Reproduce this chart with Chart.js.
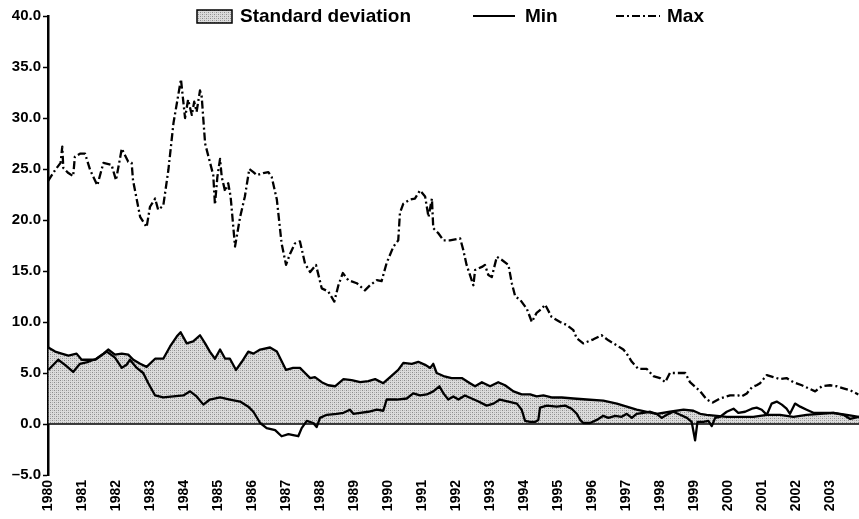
<!DOCTYPE html>
<html>
<head>
<meta charset="utf-8">
<script src="https://cdn.jsdelivr.net/npm/chart.js@4.4.1/dist/chart.umd.min.js"></script>
<style>
  html, body { margin: 0; padding: 0; background: #fff; }
  #wrap { width: 859px; height: 519px; }
</style>
</head>
<body>
<div id="wrap"><canvas id="chart"></canvas></div>
<script>
// year ticks on the x axis
var yearTicks = [1980, 1981, 1982, 1983, 1984, 1985, 1986, 1987, 1988, 1989, 1990, 1991,
                 1992, 1993, 1994, 1995, 1996, 1997, 1998, 1999, 2000, 2001, 2002, 2003];

// standard deviation (shaded)
var sdYears = [1980.01, 1980.21, 1980.40, 1980.60, 1980.84, 1980.99, 1981.38, 1981.63, 1981.77, 1981.97,
               1982.17, 1982.36, 1982.51, 1982.71, 1982.90, 1983.15, 1983.39, 1983.59, 1983.79, 1983.90,
               1984.08, 1984.27, 1984.47, 1984.62, 1984.76, 1984.91, 1985.06, 1985.21, 1985.35, 1985.53,
               1985.70, 1985.89, 1986.04, 1986.24, 1986.53, 1986.73, 1987.00, 1987.21, 1987.41, 1987.56,
               1987.71, 1987.85, 1988.05, 1988.24, 1988.44, 1988.69, 1988.93, 1989.18, 1989.42, 1989.62,
               1989.86, 1990.06, 1990.30, 1990.45, 1990.70, 1990.89, 1991.09, 1991.24, 1991.33, 1991.43,
               1991.63, 1991.87, 1992.17, 1992.41, 1992.56, 1992.76, 1993.00, 1993.24, 1993.44, 1993.69,
               1993.93, 1994.18, 1994.37, 1994.57, 1994.81, 1995.11, 1995.45, 1995.84, 1996.33, 1996.73,
               1997.02, 1997.31, 1997.61, 1997.90, 1998.29, 1998.69, 1998.98, 1999.18, 1999.37, 1999.67,
               1999.96, 2000.35, 2000.74, 2001.14, 2001.53, 2001.92, 2002.31, 2002.71, 2003.10, 2003.49,
               2003.85];
var sdValues = [7.5, 7.1, 6.9, 6.7, 6.9, 6.3, 6.3, 6.9, 7.3, 6.8,
                6.9, 6.8, 6.3, 5.9, 5.6, 6.4, 6.4, 7.6, 8.6, 9.0,
                7.9, 8.1, 8.7, 7.9, 7.1, 6.4, 7.3, 6.4, 6.4, 5.3,
                6.1, 7.1, 6.9, 7.3, 7.5, 7.1, 5.3, 5.5, 5.5, 5.0,
                4.5, 4.6, 4.1, 3.8, 3.7, 4.4, 4.3, 4.1, 4.2, 4.4,
                4.0, 4.6, 5.3, 6.0, 5.9, 6.1, 5.8, 5.5, 5.9, 5.0,
                4.7, 4.5, 4.5, 4.0, 3.7, 4.1, 3.7, 4.1, 3.8, 3.2,
                2.9, 2.9, 2.7, 2.8, 2.6, 2.6, 2.5, 2.4, 2.3, 2.0,
                1.7, 1.4, 1.2, 1.0, 1.2, 1.4, 1.3, 1.0, 0.9, 0.8,
                0.7, 0.7, 0.7, 0.9, 0.9, 0.7, 0.9, 1.0, 1.1, 0.9,
                0.7];

// minimum
var minYears = [1980.01, 1980.30, 1980.50, 1980.74, 1980.94, 1981.19, 1981.43, 1981.73, 1981.97, 1982.17,
                1982.31, 1982.41, 1982.61, 1982.80, 1982.95, 1983.15, 1983.39, 1983.69, 1983.98, 1984.18,
                1984.37, 1984.57, 1984.76, 1985.06, 1985.35, 1985.65, 1985.89, 1986.04, 1986.24, 1986.43,
                1986.68, 1986.87, 1987.07, 1987.21, 1987.36, 1987.46, 1987.61, 1987.80, 1987.90, 1988.00,
                1988.20, 1988.49, 1988.69, 1988.88, 1988.98, 1989.18, 1989.42, 1989.67, 1989.86, 1989.96,
                1990.26, 1990.55, 1990.74, 1990.94, 1991.14, 1991.33, 1991.51, 1991.63, 1991.77, 1991.92,
                1992.07, 1992.26, 1992.46, 1992.66, 1992.90, 1993.10, 1993.29, 1993.54, 1993.79, 1993.93,
                1994.03, 1994.18, 1994.32, 1994.42, 1994.47, 1994.67, 1994.96, 1995.21, 1995.40, 1995.55,
                1995.65, 1995.74, 1995.94, 1996.14, 1996.33, 1996.48, 1996.68, 1996.87, 1997.02, 1997.17,
                1997.31, 1997.51, 1997.71, 1997.90, 1998.05, 1998.20, 1998.39, 1998.59, 1998.79, 1998.93,
                1999.03, 1999.10, 1999.27, 1999.42, 1999.52, 1999.62, 1999.76, 1999.96, 2000.16, 2000.30,
                2000.50, 2000.70, 2000.84, 2000.99, 2001.14, 2001.28, 2001.43, 2001.58, 2001.72, 2001.82,
                2001.97, 2002.12, 2002.31, 2002.51, 2002.80, 2003.10, 2003.39, 2003.59, 2003.85];
var minValues = [5.3, 6.3, 5.8, 5.1, 5.9, 6.1, 6.4, 7.1, 6.5, 5.5,
                 5.8, 6.3, 5.5, 5.0, 4.0, 2.8, 2.6, 2.7, 2.8, 3.2,
                 2.7, 1.9, 2.4, 2.6, 2.4, 2.2, 1.7, 1.2, 0.1, -0.4,
                 -0.6, -1.2, -1.0, -1.1, -1.2, -0.4, 0.3, 0.1, -0.3, 0.6,
                 0.9, 1.0, 1.1, 1.4, 1.0, 1.1, 1.2, 1.4, 1.3, 2.4,
                 2.4, 2.5, 3.0, 2.8, 2.9, 3.2, 3.7, 3.0, 2.4, 2.7,
                 2.4, 2.8, 2.5, 2.2, 1.8, 2.0, 2.4, 2.2, 2.0, 1.4,
                 0.3, 0.2, 0.2, 0.4, 1.6, 1.8, 1.7, 1.8, 1.5, 1.0,
                 0.4, 0.1, 0.1, 0.4, 0.8, 0.6, 0.8, 0.7, 1.0, 0.6,
                 1.0, 1.1, 1.2, 1.0, 0.6, 0.9, 1.2, 0.9, 0.6, 0.2,
                 -1.6, 0.2, 0.2, 0.3, -0.2, 0.6, 0.7, 1.2, 1.5, 1.1,
                 1.2, 1.5, 1.6, 1.4, 0.9, 2.0, 2.2, 1.9, 1.5, 1.0,
                 2.0, 1.7, 1.4, 1.1, 1.1, 1.1, 0.9, 0.5, 0.7];

// maximum
var maxYears = [1980.00, 1980.21, 1980.37, 1980.42, 1980.45, 1980.60, 1980.74, 1980.79, 1980.94, 1981.09,
                1981.24, 1981.45, 1981.63, 1981.87, 1982.00, 1982.17, 1982.36, 1982.46, 1982.50, 1982.71,
                1982.90, 1983.00, 1983.15, 1983.24, 1983.39, 1983.54, 1983.69, 1983.91, 1984.03, 1984.12,
                1984.23, 1984.30, 1984.37, 1984.47, 1984.52, 1984.62, 1984.86, 1984.91, 1984.98, 1985.06,
                1985.11, 1985.21, 1985.30, 1985.37, 1985.50, 1985.65, 1985.79, 1985.92, 1986.04, 1986.14,
                1986.33, 1986.48, 1986.58, 1986.73, 1986.87, 1987.00, 1987.12, 1987.26, 1987.41, 1987.56,
                1987.71, 1987.88, 1988.05, 1988.24, 1988.42, 1988.54, 1988.67, 1988.83, 1989.08, 1989.32,
                1989.47, 1989.67, 1989.81, 1989.96, 1990.16, 1990.30, 1990.35, 1990.45, 1990.65, 1990.79,
                1990.94, 1991.09, 1991.19, 1991.29, 1991.33, 1991.48, 1991.63, 1991.82, 1992.12, 1992.21,
                1992.31, 1992.51, 1992.56, 1992.76, 1992.85, 1992.95, 1993.05, 1993.20, 1993.34, 1993.54,
                1993.64, 1993.74, 1993.88, 1994.08, 1994.23, 1994.37, 1994.52, 1994.62, 1994.81, 1995.06,
                1995.26, 1995.45, 1995.55, 1995.74, 1996.04, 1996.28, 1996.48, 1996.73, 1996.92, 1997.02,
                1997.17, 1997.36, 1997.61, 1997.80, 1998.00, 1998.15, 1998.29, 1998.54, 1998.74, 1998.88,
                1999.18, 1999.37, 1999.55, 1999.76, 2000.06, 2000.30, 2000.40, 2000.55, 2000.70, 2000.84,
                2000.94, 2001.14, 2001.33, 2001.53, 2001.72, 2001.92, 2002.17, 2002.36, 2002.56, 2002.76,
                2003.00, 2003.20, 2003.39, 2003.59, 2003.83];
var maxValues = [23.8, 24.9, 25.6, 27.2, 25.1, 24.6, 24.3, 26.2, 26.5, 26.5,
                 24.9, 23.4, 25.6, 25.4, 23.9, 27.0, 25.7, 25.6, 23.9, 20.3,
                 19.3, 21.3, 22.1, 21.0, 21.4, 24.9, 29.5, 33.8, 30.0, 31.8,
                 30.3, 31.6, 30.6, 32.7, 32.1, 27.5, 24.4, 21.5, 24.2, 26.0,
                 24.2, 22.8, 23.6, 22.3, 17.4, 20.3, 22.3, 25.0, 24.7, 24.4,
                 24.6, 24.7, 24.2, 22.0, 17.7, 15.6, 16.7, 17.7, 17.9, 15.7,
                 14.9, 15.6, 13.3, 13.0, 12.0, 13.6, 14.8, 14.1, 13.8, 13.1,
                 13.6, 14.1, 14.0, 15.8, 17.4, 18.0, 20.7, 21.6, 22.0, 22.1,
                 22.9, 22.3, 20.3, 22.1, 19.2, 18.7, 18.0, 18.0, 18.2, 17.1,
                 15.6, 13.6, 15.1, 15.4, 15.6, 14.6, 14.4, 16.4, 16.1, 15.6,
                 13.8, 12.5, 12.2, 11.3, 10.0, 10.9, 11.3, 11.7, 10.5, 10.0,
                 9.7, 9.2, 8.4, 7.9, 8.3, 8.7, 8.2, 7.7, 7.3, 6.9,
                 6.1, 5.4, 5.4, 4.7, 4.5, 4.1, 5.0, 5.0, 5.0, 4.1,
                 3.2, 2.4, 2.1, 2.5, 2.8, 2.8, 2.7, 3.0, 3.6, 3.8,
                 4.0, 4.8, 4.6, 4.4, 4.5, 4.1, 3.8, 3.5, 3.2, 3.7,
                 3.8, 3.7, 3.5, 3.3, 2.9];

function toPoints(xs, ys) {
    return xs.map(function(x, i) { return { x: x, y: ys[i] }; });
}

// stippled grey fill like the printed original
function makeStipple() {
    var c = document.createElement('canvas');
    c.width = 4; c.height = 4;
    var g = c.getContext('2d');
    g.fillStyle = '#dcdcdc';
    g.fillRect(0, 0, 4, 4);
    g.fillStyle = '#8c8c8c';
    g.fillRect(0, 0, 1, 1);
    g.fillRect(2, 2, 1, 1);
    g.fillStyle = '#b4b4b4';
    g.fillRect(2, 0, 1, 1);
    g.fillRect(0, 2, 1, 1);
    return g.createPattern(c, 'repeat');
}

var canvas = document.getElementById('chart');
var ctx = canvas.getContext('2d');
var stipple = makeStipple();
var FONT = '"Liberation Sans", Arial, Helvetica, sans-serif';

// horizontal zero line + legend drawn on top of the plot
var extras = {
    id: 'extras',
    afterDatasetsDraw: function(chart) {
        var c = chart.ctx, a = chart.chartArea;
        var y0 = chart.scales.y.getPixelForValue(0);
        c.save();
        c.strokeStyle = '#000';
        c.lineWidth = 1.6;
        c.beginPath();
        c.moveTo(a.left, y0);
        c.lineTo(a.right, y0);
        c.stroke();
        c.restore();
    },
    afterDraw: function(chart) {
        var c = chart.ctx;
        var ly = 17;
        c.save();
        c.font = 'bold 19px ' + FONT;
        c.fillStyle = '#000';
        c.textBaseline = 'middle';
        // Standard deviation
        c.fillStyle = stipple;
        c.fillRect(197, 10, 35, 13);
        c.strokeStyle = '#000';
        c.lineWidth = 1.5;
        c.strokeRect(197, 10, 35, 13);
        c.fillStyle = '#000';
        c.fillText('Standard deviation', 240, ly);
        // Min
        c.lineWidth = 2;
        c.beginPath();
        c.moveTo(473, 16);
        c.lineTo(515, 16);
        c.stroke();
        c.fillText('Min', 525, ly);
        // Max
        c.setLineDash([8, 3, 2, 3]);
        c.beginPath();
        c.moveTo(616, 16);
        c.lineTo(660, 16);
        c.stroke();
        c.setLineDash([]);
        c.fillText('Max', 667, ly);
        c.restore();
    }
};

var chart = new Chart(ctx, {
    type: 'line',
    data: {
        datasets: [
            {
                label: 'Min',
                data: toPoints(minYears, minValues),
                borderColor: '#000',
                borderWidth: 2.3,
                fill: false,
                order: 1
            },
            {
                label: 'Max',
                data: toPoints(maxYears, maxValues),
                borderColor: '#000',
                borderWidth: 2.3,
                borderDash: [8, 3, 2, 3],
                fill: false,
                order: 2
            },
            {
                label: 'Standard deviation',
                data: toPoints(sdYears, sdValues),
                borderColor: '#000',
                borderWidth: 2.3,
                backgroundColor: stipple,
                fill: 'origin',
                order: 3
            }
        ]
    },
    options: {
        responsive: true,
        maintainAspectRatio: false,
        animation: false,
        layout: { padding: { top: 16, right: 0, bottom: 0, left: 0 } },
        elements: {
            point: { radius: 0, hoverRadius: 0 },
            line: { tension: 0, borderJoinStyle: 'round', borderCapStyle: 'butt' }
        },
        plugins: {
            legend: { display: false },
            tooltip: { enabled: false }
        },
        scales: {
            x: {
                type: 'linear',
                min: 1980,
                max: 2003.85,
                afterBuildTicks: function(scale) {
                    scale.ticks = yearTicks.map(function(v) { return { value: v }; });
                },
                afterFit: function(scale) { scale.height = 44; },
                grid: { display: false, drawTicks: false },
                border: { display: false },
                ticks: {
                    autoSkip: false,
                    minRotation: 90,
                    maxRotation: 90,
                    padding: 5,
                    color: '#000',
                    font: { family: FONT, size: 14, weight: 'bold' },
                    callback: function(v) { return String(v); }
                }
            },
            y: {
                min: -5,
                max: 40,
                afterFit: function(scale) { scale.width = 48; },
                grid: {
                    drawOnChartArea: false,
                    color: '#000',
                    tickColor: '#000',
                    tickLength: 5,
                    tickWidth: 1.5
                },
                border: { color: '#000', width: 2.5 },
                ticks: {
                    stepSize: 5,
                    padding: 2,
                    color: '#000',
                    font: { family: FONT, size: 15, weight: 'bold' },
                    callback: function(v) {
                        return v < 0 ? '\u2013' + Math.abs(v).toFixed(1) : v.toFixed(1);
                    }
                }
            }
        }
    },
    plugins: [extras]
});
</script>
</body>
</html>
